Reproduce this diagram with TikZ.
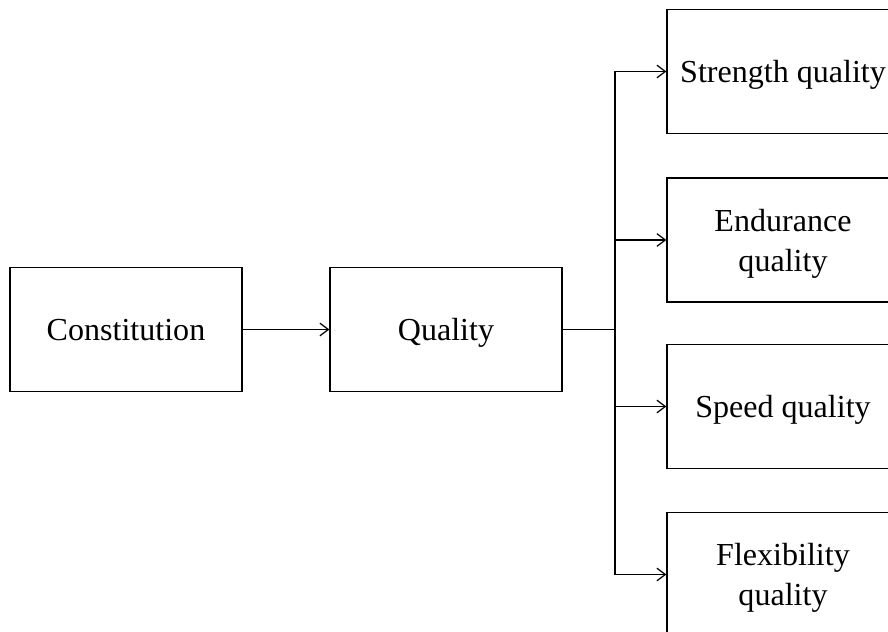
\documentclass[tikz,border=0pt]{standalone}
\usepackage{fontspec}
\setmainfont{Liberation Serif}
\usetikzlibrary{arrows.meta}

\begin{document}
\begin{tikzpicture}[
  box/.style={draw, line width=0.9pt, minimum width=5.8cm, minimum height=3.1cm,
    inner sep=0pt, align=center, text depth=0pt,
    font=\fontsize{22.8}{28.5}\selectfont},
  link/.style={line width=0.9pt, -{Straight Barb[length=6pt,width=9pt]}}]
\useasboundingbox (0,0) rectangle (22.2,15.8);
\clip (0,0) rectangle (22.2,15.8);
\node [box] (const) at (3.15,7.5625) {Constitution};
\node [box] (qual) at (11.15,7.5625) {Quality};
\node [box] (strength) at (19.575,14.0125) {Strength quality};
\node [box] (endurance) at (19.575,9.8) {Endurance\\quality};
\node [box] (speed) at (19.575,5.6375) {Speed quality};
\node [box] (flex) at (19.575,1.4375) {Flexibility\\quality};
\coordinate (split) at (15.375,7.5625);
\draw [link] (const) -- (qual);
\draw [line width=0.9pt] (qual) -- (split);
\foreach \t in {strength,endurance,speed,flex}
  \draw [link] (split) |- (\t.west);
\end{tikzpicture}
\end{document}
